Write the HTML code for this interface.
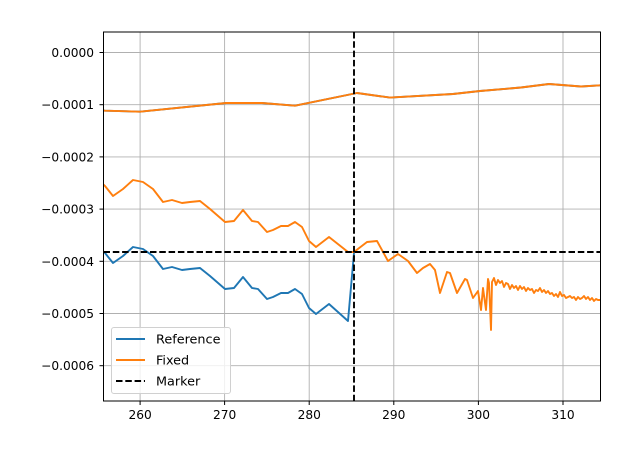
<!DOCTYPE html>
<html><head><meta charset="utf-8"><style>
html,body{margin:0;padding:0;background:#fff;}
svg{display:block;font-family:"DejaVu Sans","Liberation Sans",sans-serif;}
</style></head><body>
<svg width="631" height="455" viewBox="0 0 631 455" xmlns="http://www.w3.org/2000/svg">
<defs><clipPath id="c"><rect x="103.5" y="32" width="497" height="369"/></clipPath></defs>
<rect width="631" height="455" fill="#fff"/>
<g stroke="#b0b0b0" stroke-width="0.9">
<line x1="140.1" y1="32" x2="140.1" y2="401"/>
<line x1="224.6" y1="32" x2="224.6" y2="401"/>
<line x1="309.2" y1="32" x2="309.2" y2="401"/>
<line x1="393.8" y1="32" x2="393.8" y2="401"/>
<line x1="478.4" y1="32" x2="478.4" y2="401"/>
<line x1="563" y1="32" x2="563" y2="401"/>
<line x1="103.5" y1="52.5" x2="600.5" y2="52.5"/>
<line x1="103.5" y1="104.7" x2="600.5" y2="104.7"/>
<line x1="103.5" y1="156.9" x2="600.5" y2="156.9"/>
<line x1="103.5" y1="209.1" x2="600.5" y2="209.1"/>
<line x1="103.5" y1="261.3" x2="600.5" y2="261.3"/>
<line x1="103.5" y1="313.5" x2="600.5" y2="313.5"/>
<line x1="103.5" y1="365.7" x2="600.5" y2="365.7"/>
</g>
<g clip-path="url(#c)" fill="none" stroke-width="1.9" stroke-linejoin="round">
<polyline stroke="#1f77b4" points="103,251 105,253 113,263 123,256 133,247 143,249 153,256 163,269 172,267 182,270 190,269 200,268 210,276 225,289 234,288 243,277 252,288 258,289 267,299 273,297 281,293 288,293 295,289 302,294 309,308 316,314 329,304 348,321 354,253"/>
<polyline stroke="#1f77b4" points="103,110.5 105,110.7 140,111.7 226,103 262,103 295,105.7 357,93 390,97.6 453,94 480,91 521,87.5 549,84 581,86.5 605,85"/>
<polyline stroke="#ff7f0e" points="103,184 105,186 113,196 123,189 133,180 143,182 153,189 163,202 172,200 182,203 190,202 200,201 210,209 225,222 234,221 243,210 252,221 258,222 267,232 273,230 281,226 288,226 295,222 302,227 309,241 316,247 329,237 348,252 354,252 367,242 377,241 388,261 398,254 408,261 417,273 423,268 430,264 435,270 440,293 447,272 450,273 457,293 465,279 467,280 473,298 478,291 481,310 483,288 486,310 488,279 489,283 491,330 492,282 494,278 496,285 498,280 500,283 502,281 504,287 506,283 508,284 510,289 512,285 514,288 516,286 518,290 520,286 522,289 524,287 526,291 528,288 530,290 532,289 534,293 536,290 538,291 540,288 542,292 544,290 546,293 548,291 550,294 552,293 554,296 556,294 558,297 560,292 562,296 564,295 566,298 568,297 570,296 572,298 574,297 576,300 578,297 580,299 582,298 584,296 586,299 588,297 590,300 592,298 594,301 596,299 598,300 600,300"/>
<polyline stroke="#ff7f0e" points="103,110.5 105,110.7 140,111.7 226,103 262,103 295,105.7 357,93 390,97.6 453,94 480,91 521,87.5 549,84 581,86.5 605,85"/>
</g>
<g stroke="#000" stroke-width="1.9" stroke-dasharray="6.5,2.8">
<line x1="354" y1="32" x2="354" y2="401"/>
<line x1="103.5" y1="252" x2="600.5" y2="252"/>
</g>
<rect x="103.5" y="32" width="497" height="369" fill="none" stroke="#000" stroke-width="1"/>
<g stroke="#000" stroke-width="1">
<line x1="99.5" y1="52.5" x2="103.5" y2="52.5"/><line x1="99.5" y1="104.7" x2="103.5" y2="104.7"/>
<line x1="99.5" y1="156.9" x2="103.5" y2="156.9"/><line x1="99.5" y1="209.1" x2="103.5" y2="209.1"/>
<line x1="99.5" y1="261.3" x2="103.5" y2="261.3"/><line x1="99.5" y1="313.5" x2="103.5" y2="313.5"/>
<line x1="99.5" y1="365.7" x2="103.5" y2="365.7"/>
<line x1="140.1" y1="401" x2="140.1" y2="405"/><line x1="224.6" y1="401" x2="224.6" y2="405"/>
<line x1="309.2" y1="401" x2="309.2" y2="405"/><line x1="393.8" y1="401" x2="393.8" y2="405"/>
<line x1="478.4" y1="401" x2="478.4" y2="405"/><line x1="563" y1="401" x2="563" y2="405"/>
</g>
<g font-size="12.2" fill="#000" text-anchor="end">
<text x="94" y="57">0.0000</text>
<text x="94" y="109.2">−0.0001</text>
<text x="94" y="161.4">−0.0002</text>
<text x="94" y="213.6">−0.0003</text>
<text x="94" y="265.8">−0.0004</text>
<text x="94" y="318">−0.0005</text>
<text x="94" y="370.2">−0.0006</text>
</g>
<g font-size="12.2" fill="#000" text-anchor="middle">
<text x="140.1" y="419">260</text><text x="224.6" y="419">270</text>
<text x="309.2" y="419">280</text><text x="393.8" y="419">290</text>
<text x="478.4" y="419">300</text><text x="563" y="419">310</text>
</g>
<rect x="111.5" y="327.5" width="119" height="66" rx="2.5" fill="#fff" fill-opacity="0.8" stroke="#d0d0d0" stroke-width="1"/>
<line x1="116" y1="339" x2="145" y2="339" stroke="#1f77b4" stroke-width="1.9"/>
<line x1="116" y1="360" x2="145" y2="360" stroke="#ff7f0e" stroke-width="1.9"/>
<line x1="116" y1="381" x2="145" y2="381" stroke="#000" stroke-width="1.9" stroke-dasharray="6.5,2.8"/>
<g font-size="12.8" fill="#000">
<text x="156" y="343.5">Reference</text>
<text x="156" y="364.5">Fixed</text>
<text x="156" y="385.5">Marker</text>
</g>
</svg>
</body></html>
